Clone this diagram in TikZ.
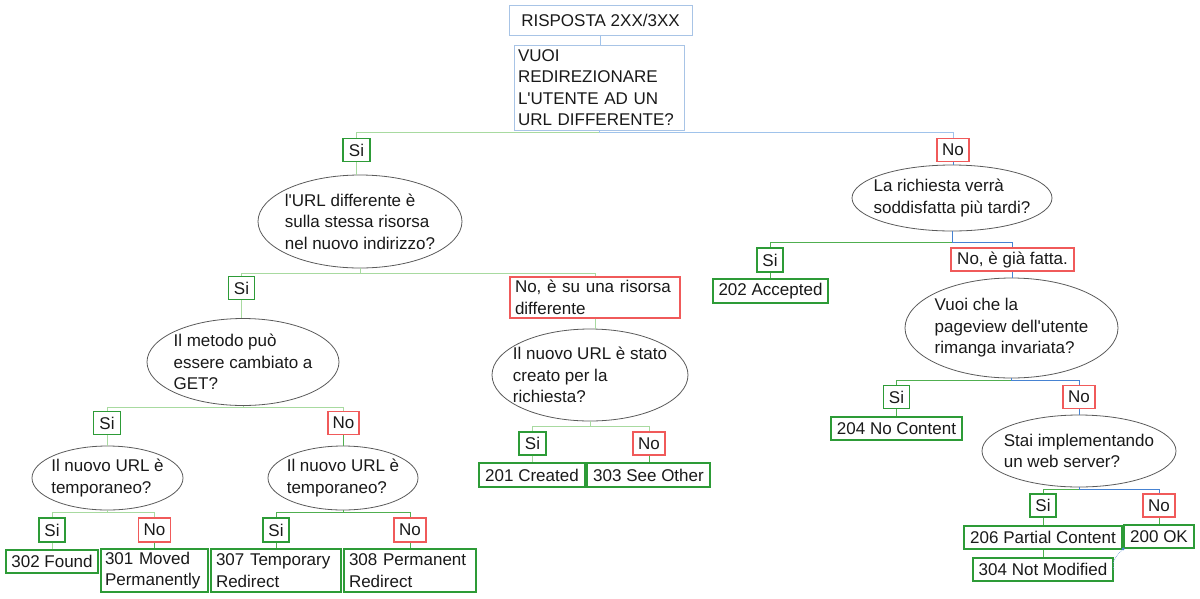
\documentclass[tikz,border=0pt]{standalone}
\usepackage{fontspec}
\setmainfont{Liberation Sans}
\usetikzlibrary{shapes.geometric}
\definecolor{cbl}{RGB}{168,196,230}
\definecolor{clg}{RGB}{168,218,160}
\definecolor{cmg}{RGB}{80,175,80}
\definecolor{clb}{RGB}{160,195,235}
\definecolor{cmb}{RGB}{70,130,210}
\definecolor{cgr}{RGB}{45,155,55}
\definecolor{cred}{RGB}{240,90,90}
\definecolor{cgray}{RGB}{90,90,90}
\newcommand\ap{\textquotesingle}
\begin{document}
\begin{tikzpicture}[x=1pt,y=-1pt,
  every node/.style={font=\fontsize{17}{21.5}\selectfont, text=black!90},
  bx/.style={rectangle, inner sep=0pt, align=center},
  blb/.style={bx, draw=cbl, line width=1pt},
  yesb/.style={bx, draw=cgr, line width=1.3pt, minimum height=23},
  nob/.style={bx, draw=cred, line width=1.1pt, minimum height=23},
  resb/.style={bx, draw=cgr, line width=1.7pt},
  qell/.style={ellipse, draw=cgray, line width=0.8pt, inner sep=0pt},
  qtxt/.style={align=left, inner sep=0pt},
  lg/.style={draw=clg, line width=1pt},
  mg/.style={draw=cmg, line width=1pt},
  lb/.style={draw=clb, line width=1pt},
  mb/.style={draw=cmb, line width=1pt},
]
\useasboundingbox (0,0) rectangle (1200,598);

% top
\node[blb, minimum width=183, minimum height=30] (r) at (600.5,20) {RISPOSTA 2XX/3XX};
\node[blb, minimum width=170, minimum height=85, text width=162, align=left] (v) at (599,87.5) {VUOI\\REDIREZIONARE\\L\ap UTENTE AD UN\\URL DIFFERENTE?};
\node[yesb, minimum width=27] (s1) at (356.5,150) {Si};
\node[nob, minimum width=32] (n1) at (953,150) {No};

% left branch
\node[qell, minimum width=204, minimum height=93] (e1) at (360,221.5) {};
\node[qtxt] (e1t) at (e1) {l\ap URL differente è\\sulla stessa risorsa\\nel nuovo indirizzo?};
\node[yesb, minimum width=26] (s2) at (241.5,288) {Si};
\node[nob, minimum width=170, minimum height=41, text width=160, align=left] (n2) at (595,297.5) {No, è su una risorsa\\differente};

\node[qell, minimum width=192, minimum height=87] (e3) at (243,362) {};
\node[qtxt] (e3t) at (e3) {Il metodo può\\essere cambiato a\\GET?};
\node[qell, minimum width=196, minimum height=92] (e4) at (590,375) {};
\node[qtxt] (e4t) at (e4) {Il nuovo URL è stato\\creato per la\\richiesta?};

\node[yesb, minimum width=27] (s3) at (107,423) {Si};
\node[nob, minimum width=31] (n3) at (343.5,423) {No};
\node[qell, minimum width=151, minimum height=64] (e5) at (107.5,478) {};
\node[qtxt] (e5t) at (e5) {Il nuovo URL è\\temporaneo?};
\node[qell, minimum width=150, minimum height=64] (e6) at (343,478) {};
\node[qtxt] (e6t) at (e6) {Il nuovo URL è\\temporaneo?};

\node[yesb, minimum width=26, minimum height=24] (s4) at (52,530) {Si};
\node[nob, minimum width=32, minimum height=24] (n4) at (154.5,530) {No};
\node[resb, minimum width=92, minimum height=23] (r302) at (52,561.5) {302 Found};
\node[resb, minimum width=107, minimum height=43, text width=99, align=left] (r301) at (154.5,570.5) {301 Moved\\Permanently};
\node[yesb, minimum width=26, minimum height=24] (s5) at (276,530) {Si};
\node[nob, minimum width=32, minimum height=24] (n5) at (410,530) {No};
\node[resb, minimum width=130, minimum height=43, text width=120, align=left] (r307) at (276,570.5) {307 Temporary\\Redirect};
\node[resb, minimum width=132, minimum height=43, text width=122, align=left] (r308) at (410,570.5) {308 Permanent\\Redirect};

\node[yesb, minimum width=27] (s6) at (532.5,443.5) {Si};
\node[nob, minimum width=32] (n6) at (649,443.5) {No};
\node[resb, minimum width=106, minimum height=24] (r201) at (532,475) {201 Created};
\node[resb, minimum width=123, minimum height=24] (r303) at (648.5,475) {303 See Other};

% right branch
\node[qell, minimum width=200, minimum height=66] (e2) at (952,198) {};
\node[qtxt] (e2t) at (e2) {La richiesta verrà\\soddisfatta più tardi?};
\node[yesb, minimum width=26, minimum height=24] (s7) at (770,260) {Si};
\node[nob, minimum width=123] (n7) at (1012.5,259.5) {No, è già fatta.};
\node[resb, minimum width=115, minimum height=24] (r202) at (770.5,291) {202 Accepted};

\node[qell, minimum width=213, minimum height=100] (e7) at (1011.5,328) {};
\node[qtxt] (e7t) at (e7) {Vuoi che la\\pageview dell\ap utente\\rimanga invariata?};
\node[yesb, minimum width=26] (s8) at (896.5,397) {Si};
\node[nob, minimum width=32] (n8) at (1079,397) {No};
\node[resb, minimum width=131, minimum height=23] (r204) at (896.5,428.5) {204 No Content};

\node[qell, minimum width=194, minimum height=72] (e8) at (1079,451) {};
\node[qtxt] (e8t) at (e8) {Stai implementando\\un web server?};
\node[yesb, minimum width=26] (s9) at (1043,505.5) {Si};
\node[nob, minimum width=32] (n9) at (1159,505.5) {No};
\node[resb, minimum width=158, minimum height=23] (r206) at (1043,537.5) {206 Partial Content};
\node[resb, minimum width=70, minimum height=23] (r200) at (1159,536.5) {200 OK};
\node[resb, minimum width=140, minimum height=23] (r304) at (1043,569.5) {304 Not Modified};

% connectors
\draw[lb] (r.south) -- (r.south |- v.north);
\draw[lg] (v.south) -- ++(0,2) -| (s1.north);
\draw[lb] (v.south) -- ++(0,2) -| (n1.north);
\draw[lg] (s1.south) -- (s1.south |- e1.north);
\draw[mb] (n1.south) -- (n1.south |- e2.north);

\draw[lg] (e1.south) -- ++(0,5) -| (s2.north);
\draw[lg] (e1.south) -- ++(0,5) -| (n2.north);
\draw[lg] (s2.south) -- (s2.south |- e3.north);
\draw[lg] (n2.south) -- (n2.south |- e4.north);

\draw[lg] (e3.south) -- ++(0,1.5) -| (s3.north);
\draw[lg] (e3.south) -- ++(0,1.5) -| (n3.north);
\draw[lg] (s3.south) -- (s3.south |- e5.north);
\draw[mg] (n3.south) -- (n3.south |- e6.north);

\draw[lg] (e5.south) -- ++(0,2) -| (s4.north);
\draw[lg] (e5.south) -- ++(0,2) -| (n4.north);
\draw[lg] (s4.south) -- (s4.south |- r302.north);
\draw[mg] (n4.south) -- (n4.south |- r301.north);

\draw[mg] (e6.south) -- ++(0,2) -| (s5.north);
\draw[mg] (e6.south) -- ++(0,2) -| (n5.north);
\draw[mg] (s5.south) -- (s5.south |- r307.north);
\draw[mg] (n5.south) -- (n5.south |- r308.north);

\draw[lg] (e4.south) -- ++(0,5) -| (s6.north);
\draw[lg] (e4.south) -- ++(0,5) -| (n6.north);
\draw[lg] (s6.south) -- (s6.south |- r201.north);
\draw[mg] (n6.south) -- (n6.south |- r303.north);

\draw[mg] (e2.south) -- ++(0,11.5) -| (s7.north);
\draw[mb] (e2.south) -- ++(0,11.5) -| (n7.north);
\draw[mg] (s7.south) -- (s7.south |- r202.north);
\draw[mb] (n7.south) -- (n7.south |- e7.north);

\draw[mg] (e7.south) -- ++(0,2) -| (s8.north);
\draw[mb] (e7.south) -- ++(0,2) -| (n8.north);
\draw[mg] (s8.south) -- (s8.south |- r204.north);
\draw[mb] (n8.south) -- (n8.south |- e8.north);

\draw[mg] (e8.south) -- ++(0,2) -| (s9.north);
\draw[mb] (e8.south) -- ++(0,2) -| (n9.north);
\draw[mg] (s9.south) -- (s9.south |- r206.north);
\draw[mg] (n9.south) -- (n9.south |- r200.north);
\draw[mg] (r206.south) -- (r206.south |- r304.north);
\draw[cmb!70, densely dotted, line width=0.7pt] (r304.east) to[out=110, in=225] (r200.south west);
\fill[cmb] (r200.south west) circle (1.5);
\end{tikzpicture}
\end{document}
